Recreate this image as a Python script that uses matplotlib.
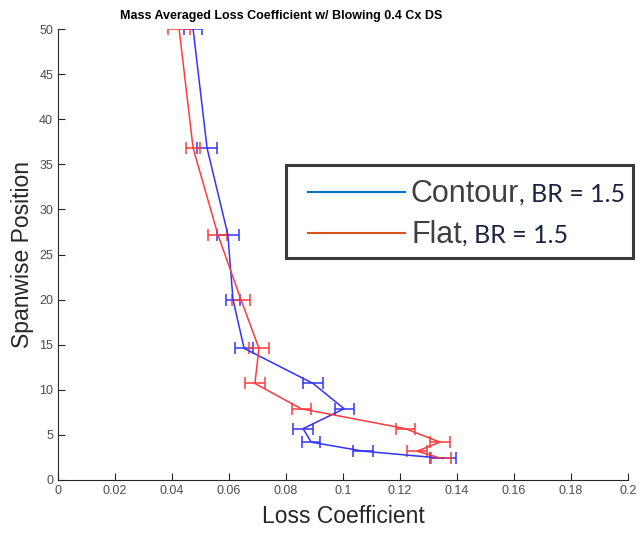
import numpy as np
import matplotlib
matplotlib.use('Agg')
import matplotlib.pyplot as plt
from matplotlib.lines import Line2D
from matplotlib.patches import Rectangle

plt.rcParams['font.family'] = ['Liberation Sans', 'DejaVu Sans']

# spanwise positions shared by both cases
span = [50, 36.8, 27.2, 20, 14.6, 10.7, 7.9, 5.7, 4.2, 3.2, 2.4]

# contour, BR = 1.5
contour_loss = [0.0474, 0.0523, 0.0596, 0.0614, 0.0653, 0.0895, 0.1004, 0.0860, 0.0888, 0.1070, 0.1351]
contour_err = [0.0033, 0.0035, 0.0039, 0.0025, 0.0032, 0.0035, 0.0033, 0.0035, 0.0033, 0.0035, 0.0046]

# flat, BR = 1.5
flat_loss = [0.0425, 0.0474, 0.0561, 0.0642, 0.0705, 0.0691, 0.0853, 0.1218, 0.1340, 0.1260, 0.1344]
flat_err = [0.0039, 0.0025, 0.0033, 0.0032, 0.0035, 0.0035, 0.0033, 0.0033, 0.0035, 0.0035, 0.0035]

xticks = np.arange(0, 0.201, 0.02)
xtick_labels = ['0', '0.02', '0.04', '0.06', '0.08', '0.1', '0.12', '0.14', '0.16', '0.18', '0.2']
yticks = np.arange(0, 51, 5)

W, H = 641, 533
fig = plt.figure(figsize=(W / 100, H / 100), dpi=100)
ax = fig.add_axes([58 / W, 1 - 480 / H, (628 - 58) / W, (480 - 29) / H])

ax.errorbar(contour_loss, span, xerr=contour_err, color='#3333ff', lw=1.1,
            capsize=4, elinewidth=1.1, capthick=1.1)
ax.errorbar(flat_loss, span, xerr=flat_err, color='#ff3b3b', lw=1.1,
            capsize=4, elinewidth=1.1, capthick=1.1)

ax.set_xlim(0, 0.2)
ax.set_ylim(0, 50)
ax.set_xticks(xticks)
ax.set_xticklabels(xtick_labels)
ax.set_yticks(yticks)

for s in ['top', 'right']:
  ax.spines[s].set_visible(False)
for s in ['left', 'bottom']:
  ax.spines[s].set_color('#262626')
  ax.spines[s].set_linewidth(0.8)
ax.tick_params(direction='in', length=5, width=0.8, colors='#262626',
               labelsize=9, labelcolor='#4d4d4d')

ax.set_xlabel('Loss Coefficient', fontsize=16.5, color='#262626', labelpad=6)
ax.set_ylabel('Spanwise Position', fontsize=16.5, color='#262626', labelpad=4)


def fx(px):
  return px / W

def fy(py):
  return 1 - py / H


fig.text(fx(281), fy(16), 'Mass Averaged Loss Coefficient w/ Blowing 0.4 Cx DS',
         fontsize=9, fontweight='bold', color='black', ha='center', va='center')

# pasted legend box
fig.add_artist(Rectangle((fx(286), fy(258)), fx(633) - fx(286), fy(165) - fy(258),
                         transform=fig.transFigure, facecolor='white',
                         edgecolor='#3a3a3a', lw=2.2))
fig.add_artist(Line2D([fx(308), fx(405)], [fy(192), fy(192)], color='#0072BD', lw=1.5))
fig.add_artist(Line2D([fx(308), fx(405)], [fy(233), fy(233)], color='#D95319', lw=1.5))

renderer = fig.canvas.get_renderer()
for label, py in [('Contour', 192), ('Flat', 233)]:
  t = fig.text(fx(411), fy(py + 10), label, fontsize=22, color='#404040', va='baseline')
  bb = t.get_window_extent(renderer)
  fig.text(bb.x1 / W, fy(py + 10), ', BR = 1.5', fontsize=18,
           family=['Lato', 'DejaVu Sans'], color='#1a2440', va='baseline')

fig.savefig('out.png', dpi=100)
